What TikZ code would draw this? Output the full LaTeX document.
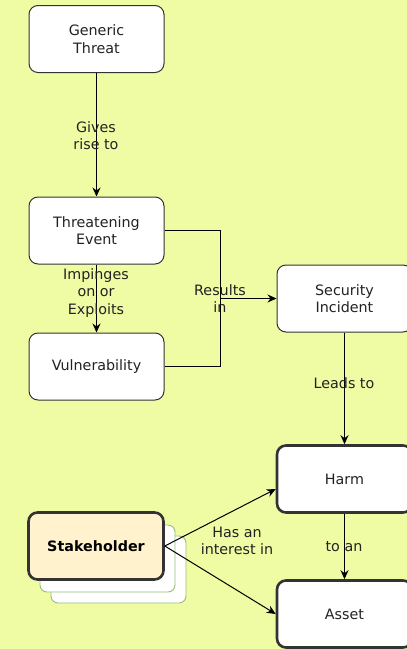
\documentclass[tikz,border=0pt]{standalone}
\usepackage{fontspec}
\setmainfont{DejaVu Sans}
\usetikzlibrary{arrows.meta}
\definecolor{bg}{RGB}{239,252,163}
\definecolor{txt}{RGB}{34,34,34}
\definecolor{bord}{RGB}{51,51,51}
\definecolor{shfill}{RGB}{255,242,204}
\definecolor{gborder}{RGB}{150,190,120}
\tikzset{
  box/.style={draw=bord, line width=1pt, fill=white, rounded corners=9pt,
    minimum width=135pt, minimum height=67pt, align=center, text=txt,
    font=\fontsize{14.3}{17.5}\selectfont, inner sep=0pt},
  thickbox/.style={box, line width=2.6pt},
  ghost/.style={draw=gborder, line width=0.9pt, fill=white, rounded corners=7pt,
    minimum width=135pt, minimum height=67pt},
  lbl/.style={align=center, text=txt, font=\fontsize{14.3}{17.5}\selectfont, inner sep=0pt},
  conn/.style={draw=black, line width=1pt},
  arr/.style={conn, -{Stealth[length=9pt,width=8pt]}}
}
\begin{document}
\begin{tikzpicture}[x=1pt,y=-1pt]
\fill[bg] (0,0) rectangle (407,649);
\useasboundingbox (0,0) rectangle (407,649);
\clip (0,0) rectangle (407,649);
\node[box] (gt) at (96.5,39) {Generic\\Threat};
\node[box] (te) at (96.5,230.5) {Threatening\\Event};
\node[box] (vul) at (96.5,366.5) {Vulnerability};
\node[box] (si) at (344.5,298.5) {Security\\Incident};
\node[thickbox] (harm) at (344.5,479) {Harm};
\node[thickbox] (asset) at (344.5,614) {Asset};
\node[ghost] (sh2) at (118.5,569.5) {};
\node[ghost] (sh1) at (107.5,558.5) {};
\node[thickbox, fill=shfill, text=black, font=\fontsize{14.3}{17.5}\selectfont\bfseries] (sh) at (96,546) {Stakeholder};
\coordinate (j) at (220,298.5);
\draw[arr] (gt.south) -- (te.north);
\draw[arr] (te.south) -- (vul.north);
\draw[conn] (te.east) -| (j);
\draw[conn] (vul.east) -| (j);
\draw[arr] (j) -- (si.west);
\draw[arr] (si.south) -- (harm.north);
\draw[arr] (harm.south) -- (asset.north);
\draw[arr] (sh.east) -- (harm.west |- 0,489);
\draw[arr] (sh.east) -- (asset.west);
\node[lbl] (l1) at (96,135.5) {Gives\\rise to};
\node[lbl] (l2) at (96,293) {Impinges\\on or\\Exploits};
\node[lbl] (l3) at (220,298.5) {Results\\in};
\node[lbl] (l4) at (344,383) {Leads to};
\node[lbl] (l5) at (344,547) {to an};
\node[lbl] (l6) at (237,541) {Has an\\interest in};
\end{tikzpicture}
\end{document}
